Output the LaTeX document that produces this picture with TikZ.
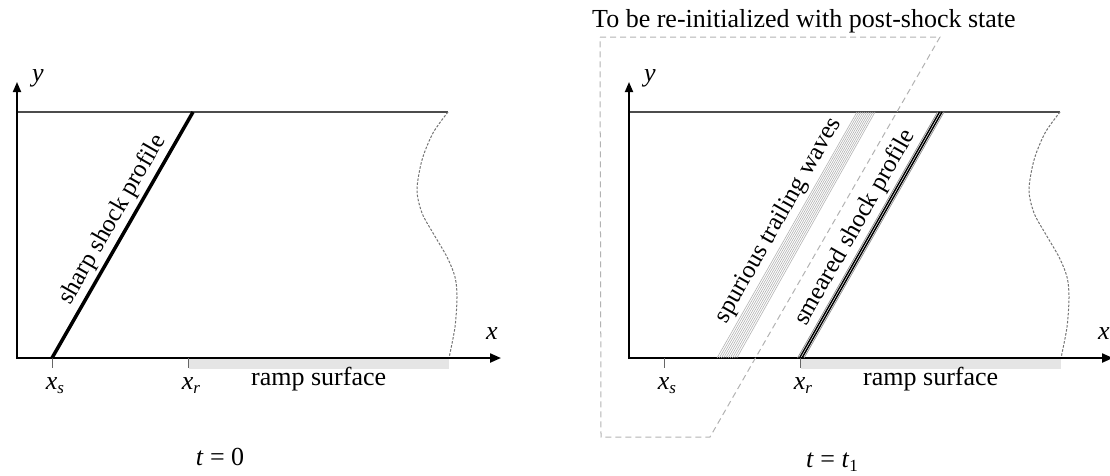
\documentclass[tikz,border=0pt]{standalone}
\usepackage{fontspec}
\setmainfont{Liberation Serif}
\usetikzlibrary{arrows.meta}
\newcommand\sbs[1]{\raisebox{-0.35ex}{\fontsize{17}{20}\selectfont #1}}
\begin{document}
\begin{tikzpicture}[x=1pt,y=-1pt,
  lbl/.style={font=\fontsize{26}{31}\selectfont, inner sep=0pt},
  slbl/.style={font=\fontsize{25}{30}\selectfont, inner sep=3pt, sloped, above},
  rampbar/.style={fill=black!10},
  topline/.style={draw=black!70, line width=1.4pt},
  yaxis/.style={draw=black, line width=1.8pt, -{Triangle[length=10pt,width=8pt]}},
  xaxis/.style={draw=black, line width=2.2pt, -{Triangle[length=11pt,width=9pt]}},
  tick/.style={draw=black!60, line width=0.9pt},
  cut/.style={draw=black!55, line width=1pt, dash pattern=on 2.5pt off 1.6pt},
  sharp/.style={draw=black, line width=3.5pt},
  smear/.style={draw=black, line width=1.4pt},
  smearthin/.style={draw=black!45, line width=0.7pt},
  wave/.style={draw=black!30, line width=0.6pt},
  dashbox/.style={draw=black!30, line width=1pt, dash pattern=on 6pt off 4pt}]
\useasboundingbox (0,0) rectangle (1110,475);
\clip (0,0) rectangle (1110,475);
% common parts of both panels
\foreach \o/\n in {0/L,612/R}{
  \begin{scope}[xshift=\o pt]
    \fill[rampbar] (189,358) rectangle (449,369);
    \draw[topline] (17,112) -- (448,112);
    \draw[cut] plot[smooth] coordinates {(448,112) (433,133) (422,160) (417,190) (422,213) (433,233) (447,257) (455,277) (457,297) (455,327) (449,358)};
    \draw[yaxis] (17,359) -- (17,82);
    \draw[xaxis] (16,358) -- (501,358);
    \draw[tick] (52,358) -- (52,368);
    \draw[tick] (188,358) -- (188,368);
    \node[lbl] (ylab\n) at (38,78) {\textit{y}};
    \node[lbl] (xlab\n) at (492,334) {\textit{x}};
    \node[lbl, anchor=base] (xs\n) at (55,389) {\textit{x}\sbs{\textit{s}}};
    \node[lbl, anchor=base] (xr\n) at (191,389) {\textit{x}\sbs{\textit{r}}};
    \node[lbl, anchor=base west] (ramp\n) at (251,385) {ramp surface};
  \end{scope}
}
% left panel
\draw[sharp] (52,358) -- node[slbl, pos=0.53] (sharpL) {sharp shock profile} (193,112);
\node[lbl, anchor=base] (t0) at (220,465) {\textit{t} = 0};
% right panel
\draw[dashbox] (600,37) -- (940,37) -- (710,437) -- (601,437) -- cycle;
\foreach \i in {0,...,9}{
  \draw[wave] (717+\i*2.2,358) -- (857+\i*2.0,112);
}
\path (717,358) -- node[slbl, pos=0.53] (waves) {spurious trailing waves} (857,112);
\draw[smearthin] (797.5,358) -- (937.5,112);
\draw[smear] (799.5,358) -- (939.5,112);
\draw[smear] (802,358) -- (942,112);
\draw[smearthin] (804,358) -- (944,112);
\path (798,358) -- node[slbl, pos=0.5] (smeared) {smeared shock profile} (938,112);
\node[lbl, anchor=base] (t1) at (832,467) {\textit{t} = \textit{t}\sbs{1}};
\node[lbl, anchor=base west] (title) at (592,27) {To be re-initialized with post-shock state};
\end{tikzpicture}
\end{document}
